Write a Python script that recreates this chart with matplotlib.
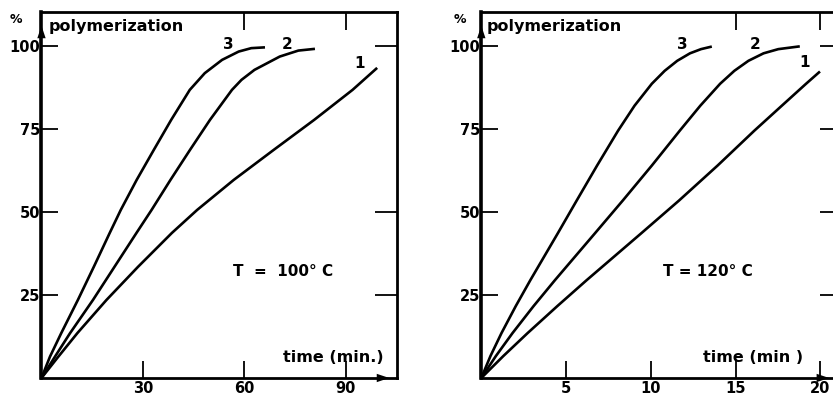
import numpy as np
import matplotlib
matplotlib.use("Agg")
import matplotlib.pyplot as plt

# === Data (time in min, % polymerization) ===
# T = 100 C panel
t100_c1 = [0, 4.91, 10.64, 19.21, 28.50, 38.55, 46.02, 56.84, 68.64, 80.61, 91.96, 99.23]
y100_c1 = [0, 6.33, 13.55, 23.49, 33.43, 43.67, 50.60, 59.64, 68.67, 77.71, 86.75, 93.37]
t100_c2 = [0, 3.99, 8.42, 15.22, 21.61, 28.02, 32.55, 38.13, 43.90, 49.81, 56.31, 59.12, 62.96, 70.44, 75.94, 80.84]
y100_c2 = [0, 6.42, 13.46, 23.49, 33.52, 43.58, 50.60, 59.64, 68.67, 77.71, 86.75, 89.76, 92.77, 96.78, 98.58, 99.10]
t100_c3 = [0, 2.51, 5.82, 10.76, 15.49, 20.13, 23.44, 28.14, 33.20, 38.34, 43.84, 48.27, 53.39, 58.29, 62.02, 66.07]
y100_c3 = [0, 6.42, 13.46, 23.49, 33.52, 43.58, 50.60, 59.64, 68.67, 77.71, 86.75, 91.78, 95.78, 98.28, 99.31, 99.55]

# T = 120 C panel
t120_c1 = [0, 1.30, 2.73, 4.48, 6.21, 9.43, 11.67, 13.94, 16.11, 17.73, 19.16, 19.98]
y120_c1 = [0, 6.61, 13.51, 21.62, 29.43, 43.54, 53.45, 63.96, 74.47, 81.98, 88.59, 92.28]
t120_c2 = [0, 0.86, 1.84, 3.08, 4.34, 6.70, 8.35, 10.06, 11.71, 12.92, 14.09, 14.93, 15.76, 16.65, 17.52, 18.79]
y120_c2 = [0, 6.61, 13.51, 21.62, 29.43, 43.54, 53.45, 63.96, 74.47, 81.98, 88.59, 92.49, 95.50, 97.75, 99.01, 99.85]
t120_c3 = [0, 0.54, 1.19, 2.03, 2.89, 4.51, 5.63, 6.83, 8.07, 9.04, 10.06, 10.82, 11.56, 12.31, 12.96, 13.60]
y120_c3 = [0, 6.61, 13.51, 21.62, 29.43, 43.54, 53.45, 63.96, 74.47, 81.98, 88.59, 92.49, 95.50, 97.75, 99.01, 99.79]

yticks = [25, 50, 75, 100]
xticks_100 = [30, 60, 90]
xticks_120 = [5, 10, 15, 20]

plt.rcParams['font.family'] = ['DejaVu Sans']
plt.rcParams['font.weight'] = 'bold'

fig = plt.figure(figsize=(8.33, 3.98), dpi=100)
ax1 = fig.add_axes([0.0498, 0.0503, 0.4268, 0.9196])
ax2 = fig.add_axes([0.5778, 0.0503, 0.4330, 0.9196])

ARROW = dict(arrowstyle="-|>,head_length=0.9,head_width=0.3", color="black", lw=0)


def setup(ax, xmax, xticks, top_ticks, right_ticks, temp_text, temp_x, time_text, time_x, pct_x, opts):
    for (t, y), num, (lx, ly) in opts["curves"]:
        ax.plot(t, y, color="black", lw=1.9, solid_capstyle="butt", solid_joinstyle="round")
        ax.text(lx, ly, num, ha="center", va="center", fontsize=11, fontweight="bold")

    ax.set_xlim(0, xmax)
    ax.set_ylim(0, 110.2)
    for s in ax.spines.values():
        s.set_linewidth(2.0)
    ax.spines["left"].set_linewidth(2.6)

    ax.set_yticks(yticks)
    ax.set_yticklabels([str(v) for v in yticks], fontsize=10.5, fontweight="bold")
    ax.set_xticks(xticks)
    ax.set_xticklabels([str(v) for v in xticks], fontsize=10.5, fontweight="bold")
    ax.tick_params(axis="both", direction="in", length=12, width=1.3, pad=1)
    ax.tick_params(axis="x", pad=2)

    # ticks on the top / right frame, no labels
    sec_x = ax.secondary_xaxis("top")
    sec_x.set_xticks(top_ticks)
    sec_x.set_xticklabels([])
    sec_x.tick_params(direction="in", length=13, width=1.3)
    sec_x.spines["top"].set_visible(False)
    sec_y = ax.secondary_yaxis("right")
    sec_y.set_yticks(right_ticks)
    sec_y.set_yticklabels([])
    sec_y.tick_params(direction="in", length=16, width=1.3)
    sec_y.spines["right"].set_visible(False)

    # axis arrows
    ax.annotate("", xy=(0, 0.970), xytext=(0, 0.93), xycoords="axes fraction",
                arrowprops=ARROW, annotation_clip=False)
    ax.annotate("", xy=(opts["arrow_x"], 0), xytext=(opts["arrow_x"] - 0.04, 0), xycoords="axes fraction",
                arrowprops=ARROW, annotation_clip=False)

    ax.text(pct_x, 107.8, "%", ha="center", va="center", fontsize=9, fontweight="bold", clip_on=False)
    ax.text(opts["poly_x"], 105.8, "polymerization", ha="left", va="center", fontsize=11.5, fontweight="bold")
    ax.text(time_x, 6.3, time_text, ha="left", va="center", fontsize=11.5, fontweight="bold")
    ax.text(temp_x, 32, temp_text, ha="left", va="center", fontsize=11, fontweight="bold")


setup(ax1, 105.1, xticks_100, [60, 90], [25, 50, 100], "T  =  100° C", 56.5, "time (min.)", 71.4, -7.5,
      {"curves": [((t100_c1, y100_c1), "1", (94.1, 94.8)),
                  ((t100_c2, y100_c2), "2", (72.5, 100.3)),
                  ((t100_c3, y100_c3), "3", (55.1, 100.3))],
       "arrow_x": 0.986, "poly_x": 2.2})

setup(ax2, 21.28, xticks_120, [15, 20], [25, 50, 75, 100], "T = 120° C", 10.7, "time (min )", 13.1, -1.26,
      {"curves": [((t120_c1, y120_c1), "1", (19.1, 95.1)),
                  ((t120_c2, y120_c2), "2", (16.17, 100.3)),
                  ((t120_c3, y120_c3), "3", (11.84, 100.3))],
       "arrow_x": 0.972, "poly_x": 0.34})

fig.savefig("out.png", dpi=100)
